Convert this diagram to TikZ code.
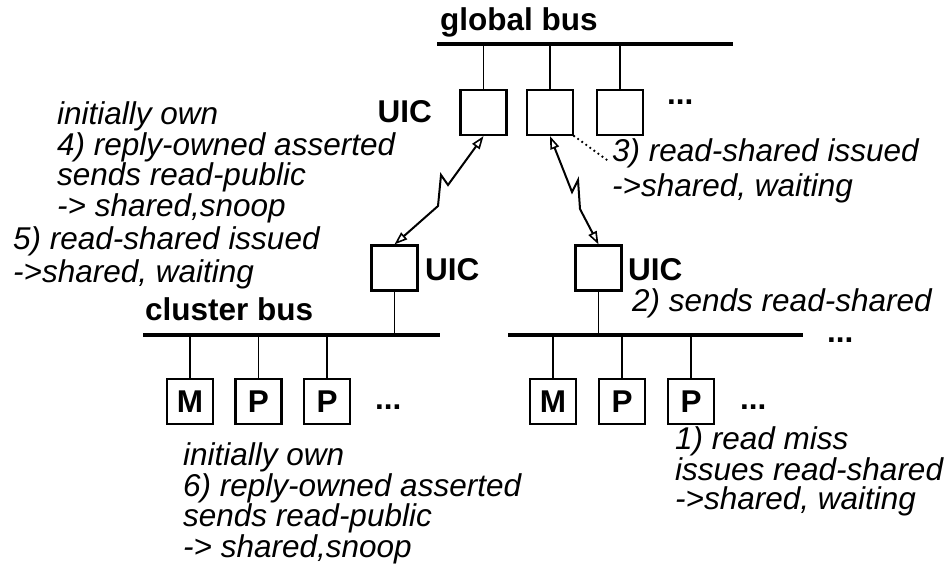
\documentclass[tikz,border=0pt]{standalone}
\usepackage{fontspec}
\setmainfont{Liberation Sans}
\usetikzlibrary{arrows.meta}
\begin{document}
\begin{tikzpicture}[x=1pt,y=-1pt,
  note/.style={font=\fontsize{31.5}{29}\selectfont\itshape, align=left, inner sep=0pt, anchor=base west},
  lbl/.style={font=\fontsize{31.5}{29}\selectfont\bfseries, inner sep=0pt},
  bus/.style={line width=3.6pt},
  stub/.style={line width=1.6pt},
  unit/.style={draw, line width=2.2pt, minimum width=46pt, minimum height=45pt, inner sep=0pt,
               font=\fontsize{31.5}{29}\selectfont\bfseries},
  tip/.tip={Triangle[open, length=13pt, width=9pt, fill=white, line width=1.6pt]},
  link/.style={line width=2pt, line join=miter, tip-tip},
]
\useasboundingbox (0,0) rectangle (952,573);

% global bus with its interface controllers
\coordinate (gbL) at (437,44);
\coordinate (gbR) at (733,44);
\draw[bus] (gbL) -- (gbR);
\node[lbl, anchor=base west] (gbus) at (440,30) {global bus};
\node[unit] (g1) at (483.5,112.5) {};
\node[unit] (g2) at (550,112.5) {};
\node[unit] (g3) at (620,112.5) {};
\node[lbl, anchor=base east] (uicg) at (432,122) {UIC};
\node[lbl, anchor=base west] (gdots) at (667,104) {...};
\foreach \b in {g1,g2,g3} \draw[stub] (\b.north) -- (\b.north |- gbL);

% cluster interface controllers
\node[unit] (c1) at (394.5,268) {};
\node[unit] (c2) at (598.5,268) {};
\node[lbl, anchor=base west] (uicl) at (425,280) {UIC};
\node[lbl, anchor=base west] (uicr) at (628,280) {UIC};

% cluster buses
\coordinate (lbL) at (143,335);
\coordinate (lbR) at (440,335);
\coordinate (rbL) at (508,335);
\coordinate (rbR) at (803,335);
\draw[bus] (lbL) -- (lbR);
\draw[bus] (rbL) -- (rbR);
\node[lbl, anchor=base west] (cbus) at (145,320) {cluster bus};
\node[lbl, anchor=base west] (rdots) at (827,342) {...};
\draw[stub] (c1.south) -- (c1.south |- lbL);
\draw[stub] (c2.south) -- (c2.south |- rbL);

% memory and processors on each cluster
\node[unit] (lm)  at (190,401.5) {M};
\node[unit] (lp1) at (258.5,401.5) {P};
\node[unit] (lp2) at (327,401.5) {P};
\node[unit] (rm)  at (553,401.5) {M};
\node[unit] (rp1) at (622,401.5) {P};
\node[unit] (rp2) at (691,401.5) {P};
\foreach \b in {lm,lp1,lp2} \draw[stub] (\b.north) -- (\b.north |- lbL);
\foreach \b in {rm,rp1,rp2} \draw[stub] (\b.north) -- (\b.north |- rbL);
\node[lbl, anchor=base west] (ldots) at (375,409) {...};
\node[lbl, anchor=base west] (rdots2) at (740,409) {...};

% network links between the controllers
\draw[link] (g1.south) -- (448,185) -- (441,175) -- (438,206) -- (c1.north);
\draw[link] (g2.south) -- (572,192) -- (578,180) -- (580,209) -- (c2.north);

% annotations (base anchors sit on the last line of each block)
\node[note] (t3) at (612,196) {3) read-shared issued\\[4pt]->shared, waiting};
\coordinate (t3end) at (607,160);
\draw[line width=2.6pt, line cap=round, dash pattern=on 0pt off 5pt] (g2.south east) -- (t3end);
\node[note] (t4) at (57,216) {initially own\\4) reply-owned asserted\\sends read-public\\-> shared,snoop};
\node[note] (t5) at (13,282) {5) read-shared issued\\[2pt]->shared, waiting};
\node[note] (t2) at (632,311) {2) sends read-shared};
\node[note] (t6) at (183,557) {initially own\\6) reply-owned asserted\\sends read-public\\-> shared,snoop};
\node[note] (t1) at (675,509) {1) read miss\\issues read-shared\\->shared, waiting};
\end{tikzpicture}
\end{document}
